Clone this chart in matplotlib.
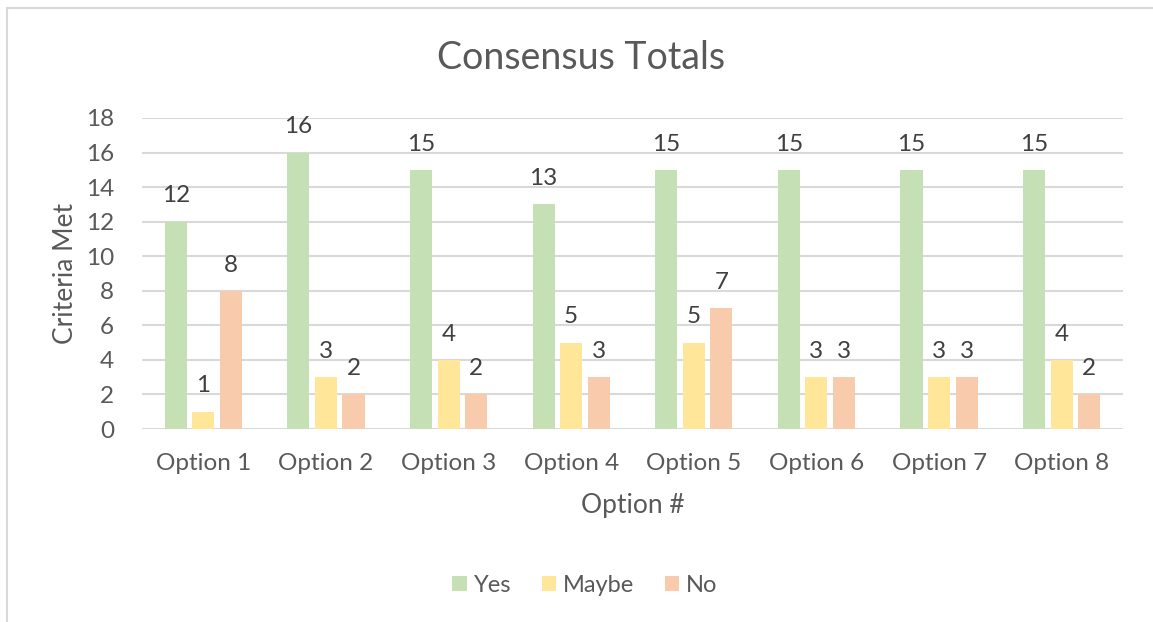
import matplotlib
matplotlib.use("Agg")
import matplotlib.pyplot as plt
import numpy as np
from matplotlib.patches import Rectangle

# Consensus counts per option
options = ["Option 1", "Option 2", "Option 3", "Option 4",
           "Option 5", "Option 6", "Option 7", "Option 8"]
yes_counts = [12, 16, 15, 13, 15, 15, 15, 15]
maybe_counts = [1, 3, 4, 5, 5, 3, 3, 4]
no_counts = [8, 2, 2, 3, 7, 3, 3, 2]

plt.rcParams.update({
    "font.family": "Lato",
    "text.color": "#595959",
    "axes.labelcolor": "#595959",
    "xtick.color": "#595959",
    "ytick.color": "#595959",
})

W, H = 1153, 622
fig = plt.figure(figsize=(W / 100, H / 100), dpi=100)
ax = fig.add_axes([142 / W, 1 - 429 / H, 981 / W, 311 / H])

# outer chart frame
fig.patches.append(Rectangle((7 / W, -0.05), 1.2, 1 - 8 / H + 0.05,
                             transform=fig.transFigure, fill=False,
                             edgecolor="#d9d9d9", linewidth=1.5))

x = np.arange(len(options))
width = 0.18
step = 0.225
series = [
    ("Yes", yes_counts, "#c5e0b4", -step),
    ("Maybe", maybe_counts, "#ffe699", 0),
    ("No", no_counts, "#f8cbad", step),
]
for label, vals, color, off in series:
    bars = ax.bar(x + off, vals, width, color=color, label=label, zorder=3)
    ax.bar_label(bars, padding=11, fontsize=17.5, color="#404040")

ax.set_xlim(-0.5, len(options) - 0.5)
ax.set_ylim(0, 18)
ax.set_yticks(range(0, 19, 2))
ax.set_xticks(x)
ax.set_xticklabels(options)
ax.tick_params(axis="both", length=0, labelsize=17.5)
ax.tick_params(axis="x", pad=17)
ax.tick_params(axis="y", pad=20)
ax.grid(axis="y", color="#d9d9d9", linewidth=1.5, zorder=0)
for s in ax.spines.values():
    s.set_visible(False)

ax.set_xlabel("Option #", fontsize=19, labelpad=14)
ax.set_ylabel("Criteria Met", fontsize=19, labelpad=6)
fig.text(581 / W, 1 - 58 / H, "Consensus Totals", ha="center", va="center",
         fontsize=27)

ax.legend(loc="center", bbox_to_anchor=(585 / W, 1 - 585 / H),
          bbox_transform=fig.transFigure, ncol=3, frameon=False,
          fontsize=17, handlelength=0.6, handleheight=0.6,
          handletextpad=0.3, columnspacing=1.3)

fig.savefig("out.png", dpi=100)
